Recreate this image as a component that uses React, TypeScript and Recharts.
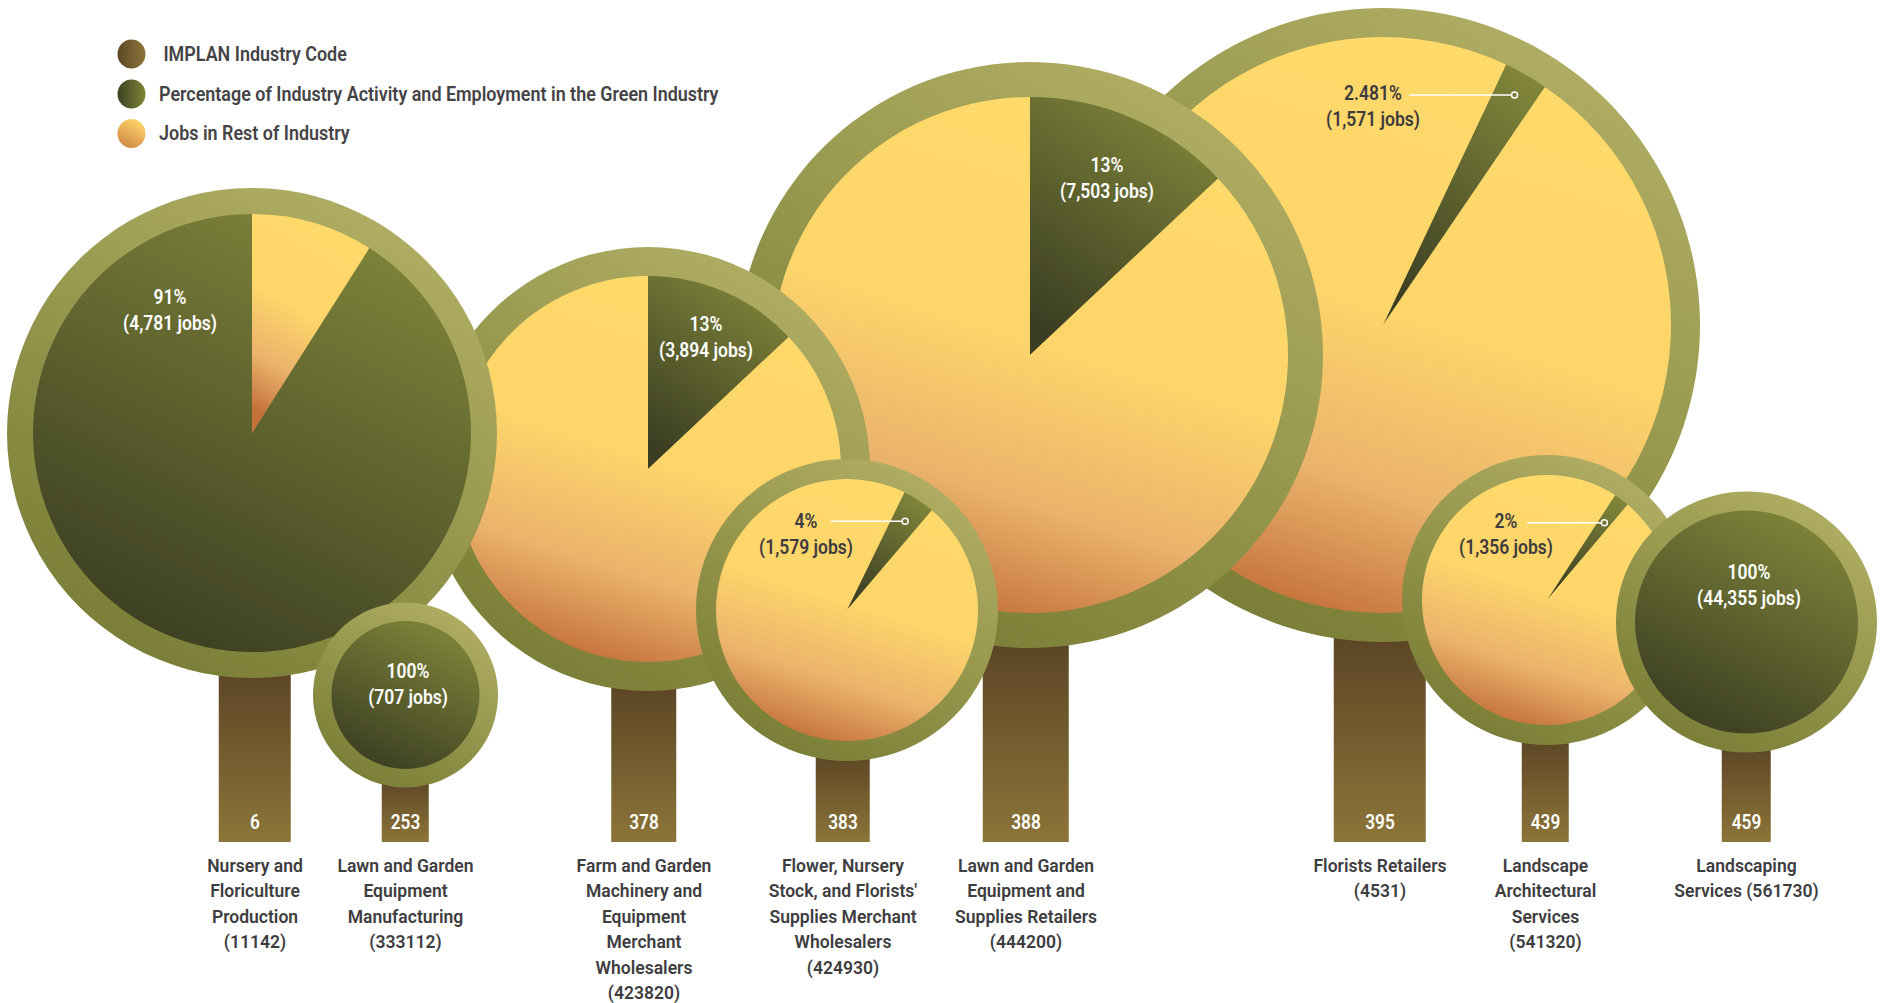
import React from 'react';
import { PieChart, Pie, Cell, ComposedChart, Bar, XAxis, YAxis } from 'recharts';

// ---------------- data ----------------
const industryCodes = ['6', '253', '378', '383', '388', '395', '439', '459'];
const industryNames = [
  ['Nursery and', 'Floriculture', 'Production', '(11142)'],
  ['Lawn and Garden', 'Equipment', 'Manufacturing', '(333112)'],
  ['Farm and Garden', 'Machinery and', 'Equipment', 'Merchant', 'Wholesalers', '(423820)'],
  ['Flower, Nursery', "Stock, and Florists'", 'Supplies Merchant', 'Wholesalers', '(424930)'],
  ['Lawn and Garden', 'Equipment and', 'Supplies Retailers', '(444200)'],
  ['Florists Retailers', '(4531)'],
  ['Landscape', 'Architectural', 'Services', '(541320)'],
  ['Landscaping', 'Services (561730)'],
];
const greenShare = [91, 100, 13, 4, 13, 2.481, 2, 100];
const shareLabels = ['91%', '100%', '13%', '4%', '13%', '2.481%', '2%', '100%'];
const greenJobs = [4781, 707, 3894, 1579, 7503, 1571, 1356, 44355];
const legendItems = [
  ' IMPLAN Industry Code',
  'Percentage of Industry Activity and Employment in the Green Industry',
  'Jobs in Rest of Industry',
];

// ---------------- layout (pixels) ----------------
const W = 1885;
const H = 1003;
const GROUND = 842;
type L = {
  cx: number; cy: number; ro: number; ri: number; start: number;
  tx: number; tw: number; lx: number; ly: number; dark: boolean;
  dot?: number; lineX?: number;
};
const layout: L[] = [
  { cx: 252, cy: 433, ro: 245, ri: 219, start: 32.4, tx: 255, tw: 72, lx: 170, ly: 298, dark: false },
  { cx: 405.5, cy: 695, ro: 92.5, ri: 74, start: 0, tx: 405.5, tw: 47, lx: 408, ly: 672, dark: false },
  { cx: 648, cy: 469, ro: 222, ri: 193, start: 0, tx: 644, tw: 65, lx: 706, ly: 325, dark: false },
  { cx: 847, cy: 610, ro: 151, ri: 131, start: 26, tx: 843, tw: 54, lx: 806, ly: 522, dark: true, dot: 0.81, lineX: 831 },
  { cx: 1030, cy: 355, ro: 293, ri: 258, start: 0, tx: 1026, tw: 86, lx: 1107, ly: 166, dark: false },
  { cx: 1383, cy: 325, ro: 317, ri: 288, start: 25.3, tx: 1380, tw: 92, lx: 1373, ly: 94, dark: true, dot: 0.92, lineX: 1409 },
  { cx: 1547, cy: 600, ro: 145, ri: 125, start: 33, tx: 1545.5, tw: 47, lx: 1506, ly: 522, dark: true, dot: 0.77, lineX: 1527 },
  { cx: 1746.5, cy: 622, ro: 130.5, ri: 111.5, start: 0, tx: 1746.5, tw: 49, lx: 1749, ly: 573, dark: false },
];
const drawOrder = [5, 4, 2, 0, 1, 3, 6, 7];

const FONT = "Roboto, 'Noto Sans', sans-serif";
const DARK = '#3d3b40';

const pieData = greenShare.map((g) => [
  { name: 'green', value: g },
  { name: 'rest', value: Math.max(0, 100 - g) },
]);
const trunkData = layout.map((l, i) => ({ x: l.tx, h: GROUND - l.cy, code: industryCodes[i] }));

type TP = {
  x: number; y: number; children: React.ReactNode; size?: number; sx?: number;
  fill?: string; weight?: number; anchor?: 'start' | 'middle' | 'end';
};
const T = ({ x, y, children, size = 18, sx = 0.9, fill = DARK, weight = 600, anchor = 'middle' }: TP) => (
  <text
    transform={`translate(${x} ${y}) scale(${sx} 1)`}
    textAnchor={anchor}
    dominantBaseline="central"
    fontSize={size}
    fontWeight={weight}
    fill={fill}
    fontFamily={FONT}
    style={{ whiteSpace: 'pre' }}
  >
    {children}
  </text>
);

const fmt = (n: number) => `(${n.toLocaleString('en-US')} jobs)`;

const TrunkShape = (p: any) => {
  const i = p.index;
  const l = layout[i];
  const c = p.x + p.width / 2;
  return <rect x={c - l.tw / 2} y={p.y} width={l.tw} height={p.height} fill={`url(#trunkG${i})`} />;
};

export default function App() {
  return (
    <div style={{ position: 'absolute', left: 0, top: 0, width: W, height: H, background: '#fff', overflow: 'hidden' }}>
      {/* trunks */}
      <div style={{ position: 'absolute', left: 0, top: 0 }}>
        <ComposedChart width={W} height={GROUND} data={trunkData} margin={{ top: 0, right: 0, bottom: 0, left: 0 }}>
          <defs>
            {layout.map((l, i) => (
              <linearGradient key={i} id={`trunkG${i}`} gradientUnits="userSpaceOnUse" x1={0} y1={l.cy + l.ro - 10} x2={0} y2={GROUND}>
                <stop offset="0" stopColor="#5b4425" />
                <stop offset="1" stopColor="#8c7538" />
              </linearGradient>
            ))}
          </defs>
          <XAxis type="number" dataKey="x" domain={[0, W]} hide />
          <YAxis type="number" domain={[0, GROUND]} hide />
          <Bar dataKey="h" barSize={40} isAnimationActive={false} shape={TrunkShape} />
        </ComposedChart>
      </div>
      {/* crowns */}
      <div style={{ position: 'absolute', left: 0, top: 0 }}>
        <PieChart width={W} height={H} margin={{ top: 0, right: 0, bottom: 0, left: 0 }}>
          <defs>
            <linearGradient id="ringG" x1="0.8" y1="0" x2="0.2" y2="1">
              <stop offset="0" stopColor="#b3b066" />
              <stop offset="1" stopColor="#777b33" />
            </linearGradient>
            <linearGradient id="greenG" x1="0.75" y1="0" x2="0.25" y2="1">
              <stop offset="0" stopColor="#80853a" />
              <stop offset="1" stopColor="#3a3d21" />
            </linearGradient>
            <linearGradient id="yellowG" x1="0.65" y1="0.05" x2="0.35" y2="1">
              <stop offset="0" stopColor="#ffd96a" />
              <stop offset="0.45" stopColor="#fdd56a" />
              <stop offset="0.75" stopColor="#eab36c" />
              <stop offset="1" stopColor="#c4713a" />
            </linearGradient>
          </defs>
          {drawOrder.map((i) => {
            const l = layout[i];
            const sa = 90 - l.start;
            return [
              <Pie
                key={`ring${i}`}
                data={[{ name: 'ring', v: 1 }]}
                dataKey="v"
                cx={l.cx}
                cy={l.cy}
                innerRadius={0}
                outerRadius={l.ro}
                startAngle={90}
                endAngle={-270}
                stroke="none"
                isAnimationActive={false}
              >
                <Cell fill="url(#ringG)" />
              </Pie>,
              <Pie
                key={`pie${i}`}
                data={pieData[i]}
                dataKey="value"
                cx={l.cx}
                cy={l.cy}
                innerRadius={0}
                outerRadius={l.ri}
                startAngle={sa}
                endAngle={sa - 360}
                stroke="none"
                isAnimationActive={false}
              >
                <Cell fill="url(#greenG)" />
                <Cell fill="url(#yellowG)" />
              </Pie>,
            ];
          })}
        </PieChart>
      </div>
      {/* text overlay */}
      <svg width={W} height={H} style={{ position: 'absolute', left: 0, top: 0, pointerEvents: 'none' }}>
        <defs>
          <linearGradient id="legBrown" x1="0" y1="0" x2="1" y2="0">
            <stop offset="0" stopColor="#5b4626" />
            <stop offset="1" stopColor="#8d7638" />
          </linearGradient>
          <linearGradient id="legGreen" x1="0" y1="0" x2="1" y2="0">
            <stop offset="0" stopColor="#3c4022" />
            <stop offset="1" stopColor="#7f8437" />
          </linearGradient>
          <linearGradient id="legYellow" x1="0.8" y1="0" x2="0.2" y2="1">
            <stop offset="0" stopColor="#ffd96a" />
            <stop offset="1" stopColor="#d08546" />
          </linearGradient>
        </defs>
        {/* legend */}
        {legendItems.map((t, k) => {
          const y = [54, 94, 133.5][k];
          const f = ['url(#legBrown)', 'url(#legGreen)', 'url(#legYellow)'][k];
          return (
            <g key={k}>
              <ellipse cx={131.5} cy={y} rx={14} ry={14.5} fill={f} />
              <T x={159} y={y} size={20} sx={0.897} anchor="start" fill="#444346">{t}</T>
            </g>
          );
        })}
        {/* pie labels */}
        {layout.map((l, i) => {
          const fill = l.dark ? DARK : '#ffffff';
          let lead: React.ReactNode = null;
          if (l.dot) {
            const a = ((l.start + (greenShare[i] * 360) / 200) * Math.PI) / 180;
            const r = l.ri * l.dot;
            const dx = l.cx + r * Math.sin(a);
            const dy = l.cy - r * Math.cos(a);
            lead = (
              <g>
                <line x1={l.lineX} y1={dy} x2={dx - 3} y2={dy} stroke="#ffffff" strokeWidth={1.6} />
                <circle cx={dx} cy={dy} r={3} fill="none" stroke="#ffffff" strokeWidth={1.5} />
              </g>
            );
          }
          return (
            <g key={i}>
              {lead}
              <T x={l.lx} y={l.ly} size={20} sx={0.875} fill={fill}>{shareLabels[i]}</T>
              <T x={l.lx} y={l.ly + 26} size={20} sx={0.875} fill={fill}>{fmt(greenJobs[i])}</T>
            </g>
          );
        })}
        {/* trunk codes */}
        {layout.map((l, i) => (
          <T key={i} x={l.tx} y={823} size={20} sx={0.86} fill="#ffffff">{industryCodes[i]}</T>
        ))}
        {/* industry names */}
        {industryNames.map((lines, i) => (
          <g key={i}>
            {lines.map((s, k) => (
              <T key={k} x={layout[i].tx} y={866 + k * 25.4} size={18} sx={0.975} fill="#3e3d40">{s}</T>
            ))}
          </g>
        ))}
      </svg>
    </div>
  );
}
